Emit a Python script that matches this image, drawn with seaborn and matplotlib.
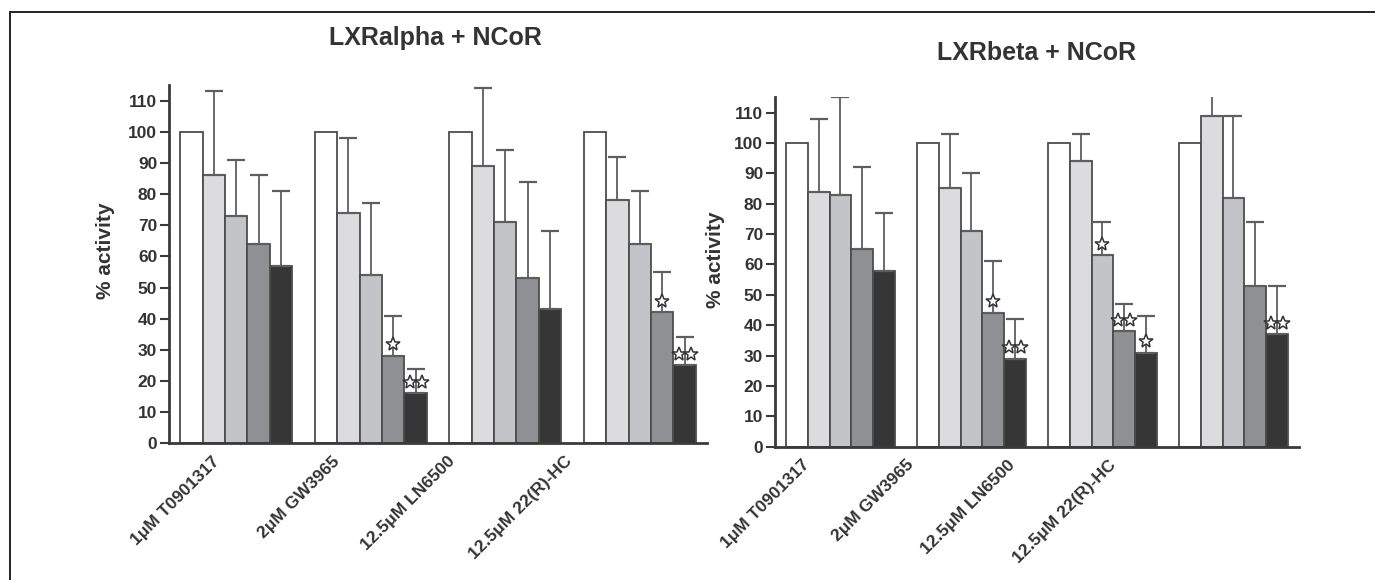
import numpy as np
import pandas as pd
import matplotlib
matplotlib.use("Agg")
import matplotlib.pyplot as plt
import seaborn as sns
from matplotlib.lines import Line2D
from matplotlib.container import BarContainer

# ---------------- data ----------------
treatments = ["1μM T0901317", "2μM GW3965", "12.5μM LN6500", "12.5μM 22(R)-HC"]
levels = ["L1", "L2", "L3", "L4", "L5"]

alpha_values = [[100, 86, 73, 64, 57],
                [100, 74, 54, 28, 16],
                [100, 89, 71, 53, 43],
                [100, 78, 64, 42, 25]]
alpha_upper = [[None, 113, 91, 86, 81],
               [None, 98, 77, 41, 24],
               [None, 114, 94, 84, 68],
               [None, 92, 81, 55, 34]]
alpha_stars = [[0, 0, 0, 0, 0],
               [0, 0, 0, 1, 2],
               [0, 0, 0, 0, 0],
               [0, 0, 0, 1, 2]]

beta_values = [[100, 84, 83, 65, 58],
               [100, 85, 71, 44, 29],
               [100, 94, 63, 38, 31],
               [100, 109, 82, 53, 37]]
beta_upper = [[None, 108, 115, 92, 77],
              [None, 103, 90, 61, 42],
              [None, 103, 74, 47, 43],
              [None, 118, 109, 74, 53]]
beta_stars = [[0, 0, 0, 0, 0],
              [0, 0, 0, 1, 2],
              [0, 0, 1, 2, 1],
              [0, 0, 0, 0, 2]]

titles = ["LXRalpha + NCoR", "LXRbeta + NCoR"]
ylabel = "% activity"
yticks = list(range(0, 111, 10))

# ---------------- style ----------------
sns.set_style("ticks")
plt.rcParams["font.family"] = ["Liberation Sans", "DejaVu Sans"]
plt.rcParams["font.weight"] = "bold"
TXT = "#333333"
AX = "#3a3a3a"
palette = ["#ffffff", "#dcdcde", "#c3c4c7", "#8f9093", "#363636"]
edge = "#4d4d4d"
errc = "#5e5e5e"

fig = plt.figure(figsize=(13.75, 5.8), dpi=100)
ax_rects = [[0.1229, 0.2357, 0.3913, 0.6178],
            [0.5636, 0.2298, 0.3811, 0.6024]]
title_pos = [(0.317, 0.934), (0.754, 0.909)]
ylabel_pos = [(-0.100, 0.537), (-0.095, 0.534)]
# the category labels in the original sit left of their bar groups
label_shift = [[-0.179, -0.290, -0.432, -0.558],
               [-0.291, -0.497, -0.727, -0.956]]


def long_df(values):
    rows = []
    for t, vals in zip(treatments, values):
        for lv, v in zip(levels, vals):
            rows.append({"treatment": t, "level": lv, "value": v})
    return pd.DataFrame(rows)


panels = [(alpha_values, alpha_upper, alpha_stars),
          (beta_values, beta_upper, beta_stars)]

for k, (vals, upper, stars) in enumerate(panels):
    ax = fig.add_axes(ax_rects[k])
    df = long_df(vals)
    sns.barplot(data=df, x="treatment", y="value", hue="level",
                order=treatments, hue_order=levels, palette=palette,
                saturation=1, edgecolor=edge, linewidth=1.3,
                width=0.834, gap=0, errorbar=None, legend=False, ax=ax)

    bar_conts = [c for c in ax.containers if isinstance(c, BarContainer)]
    for h, cont in enumerate(bar_conts):
        for t, patch in enumerate(cont.patches):
            xc = patch.get_x() + patch.get_width() / 2
            top = patch.get_height()
            w = patch.get_width()
            up = upper[t][h]
            if up is not None:
                ax.errorbar([xc], [top], yerr=[[0], [up - top]], fmt="none",
                            ecolor=errc, elinewidth=1.3, capsize=6.5,
                            capthick=1.6, zorder=1)
            n = stars[t][h]
            if n:
                xs = [xc] if n == 1 else [xc - 0.27 * w, xc + 0.27 * w]
                ax.plot(xs, [top + 3.8] * len(xs), linestyle="none",
                        marker="*", markersize=10.5, markerfacecolor="white",
                        markeredgecolor="#333333", markeredgewidth=1.1,
                        zorder=5, clip_on=False)

    ax.set_xlim(-0.5, 3.5)
    ax.set_ylim(0, 115)
    ax.set_yticks(yticks)
    ax.set_yticklabels([str(v) for v in yticks], fontsize=12.5,
                       fontweight="bold", color=TXT)
    ax.set_xticks(np.arange(len(treatments)) + np.array(label_shift[k]))
    ax.set_xticklabels(treatments, rotation=45, ha="right", va="top",
                       rotation_mode="anchor", fontsize=12.5,
                       fontweight="bold", color=TXT)
    ax.tick_params(axis="x", length=0, pad=7.5)
    ax.tick_params(axis="y", length=6.5, width=1.5, color=AX, pad=2)
    ax.set_xlabel("")
    ax.set_ylabel(ylabel, fontsize=15, fontweight="bold", color=TXT)
    ax.yaxis.set_label_coords(*ylabel_pos[k])
    for s in ["top", "right"]:
        ax.spines[s].set_visible(False)
    for s in ["left", "bottom"]:
        ax.spines[s].set_linewidth(2.0)
        ax.spines[s].set_color(AX)
    ax.set_facecolor("white")
    fig.text(title_pos[k][0], title_pos[k][1], titles[k], ha="center",
             va="center", fontsize=18, fontweight="bold", color=TXT)

# figure frame (top and left rules)
fig.add_artist(Line2D([0.0073, 1.0], [0.980, 0.980], transform=fig.transFigure,
                      color="#222222", linewidth=1.4))
fig.add_artist(Line2D([0.0076, 0.0076], [0.0, 0.980], transform=fig.transFigure,
                      color="#222222", linewidth=1.4))

fig.savefig("out.png", dpi=100, facecolor="white")
